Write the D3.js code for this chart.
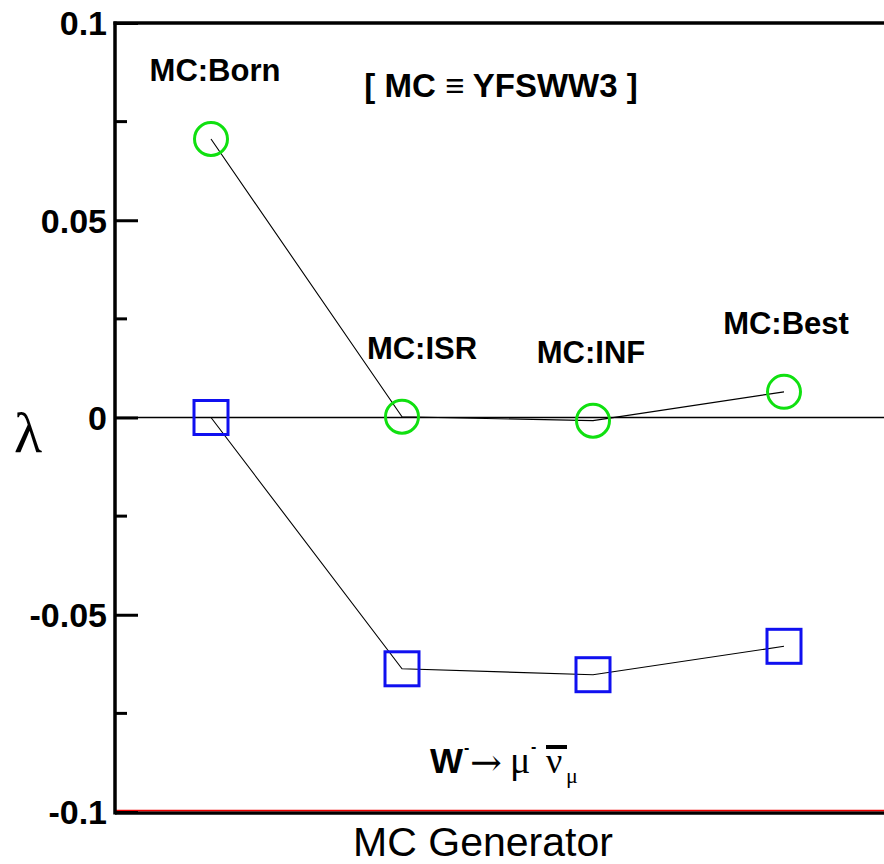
<!DOCTYPE html>
<html>
<head>
<meta charset="utf-8">
<script src="https://cdn.jsdelivr.net/npm/d3@7"></script>
<style>
  html, body { margin: 0; padding: 0; background: #fff; }
  svg { display: block; }
</style>
</head>
<body>
<script>
// Generator variants along the horizontal axis
const categories = ["MC:Born", "MC:ISR", "MC:INF", "MC:Best"];
// Green circle series
const circleValues = [0.0706, 0.0002, -0.0008, 0.0065];
// Blue square series
const squareValues = [0.0, -0.0637, -0.0652, -0.0580];
// Y-axis tick labels
const yTickValues = [0.1, 0.05, 0, -0.05, -0.1];
const yTickLabels = ["0.1", "0.05", "0", "-0.05", "-0.1"];
const yMinorTicks = [0.075, 0.025, -0.025, -0.075];

const W = 884, H = 864;
const svg = d3.select("body").append("svg").attr("width", W).attr("height", H);

const x = d3.scalePoint().domain(categories).range([211, 784]);
const y = d3.scaleLinear().domain([-0.1, 0.1]).range([812, 23]);
const left = 115, right = W;

const sans = "'Liberation Sans', Arial, sans-serif";
const serif = "'Liberation Serif', 'Times New Roman', serif";

// zero reference line
svg.append("line")
  .attr("x1", left).attr("x2", right)
  .attr("y1", y(0)).attr("y2", y(0))
  .attr("stroke", "#000").attr("stroke-width", 1.5);

// frame: top edge, bottom edge (with red accent), left axis
svg.append("line").attr("x1", left - 1.5).attr("x2", right)
  .attr("y1", y(0.1)).attr("y2", y(0.1))
  .attr("stroke", "#000").attr("stroke-width", 3.5);
svg.append("line").attr("x1", left).attr("x2", right)
  .attr("y1", y(-0.1) + 1).attr("y2", y(-0.1) + 1)
  .attr("stroke", "#000").attr("stroke-width", 3.5);
svg.append("line").attr("x1", left).attr("x2", right)
  .attr("y1", y(-0.1) - 1.5).attr("y2", y(-0.1) - 1.5)
  .attr("stroke", "#e00").attr("stroke-width", 1.5);

// left axis with major ticks and labels
const yAxis = d3.axisRight(y)
  .tickValues(yTickValues)
  .tickSize(23)
  .tickFormat((d, i) => yTickLabels[i]);
const ga = svg.append("g").attr("transform", `translate(${left},0)`).call(yAxis);
ga.select(".domain")
  .attr("d", `M0,${y(0.1) - 1.5}V${y(-0.1) + 2.5}`)
  .attr("stroke", "#000").attr("stroke-width", 3.5);
ga.selectAll(".tick line").attr("stroke", "#000").attr("stroke-width", 3);
ga.selectAll(".tick text")
  .attr("x", -8).attr("dy", "0.35em")
  .attr("text-anchor", "end")
  .attr("font-family", sans).attr("font-weight", "bold")
  .attr("font-size", 34).attr("fill", "#000");

// minor ticks
svg.append("g").selectAll("line").data(yMinorTicks).join("line")
  .attr("x1", left).attr("x2", left + 12)
  .attr("y1", d => y(d)).attr("y2", d => y(d))
  .attr("stroke", "#000").attr("stroke-width", 3);

// connecting lines
const line = d3.line().x((d, i) => x(categories[i])).y(d => y(d));
svg.append("path").datum(circleValues).attr("d", line)
  .attr("fill", "none").attr("stroke", "#000").attr("stroke-width", 1.1);
svg.append("path").datum(squareValues).attr("d", line)
  .attr("fill", "none").attr("stroke", "#000").attr("stroke-width", 1.1);

// markers
svg.append("g").selectAll("circle").data(circleValues).join("circle")
  .attr("cx", (d, i) => x(categories[i])).attr("cy", d => y(d))
  .attr("r", 16.5)
  .attr("fill", "none").attr("stroke", "#10e010").attr("stroke-width", 3);
const sq = 34;
svg.append("g").selectAll("rect").data(squareValues).join("rect")
  .attr("x", (d, i) => x(categories[i]) - sq / 2).attr("y", d => y(d) - sq / 2)
  .attr("width", sq).attr("height", sq)
  .attr("fill", "none").attr("stroke", "#1010f0").attr("stroke-width", 3);

// generator labels above each circle
const labelDx = [4, 20, -2, 2];
svg.append("g").selectAll("text").data(categories).join("text")
  .attr("x", (d, i) => x(d) + labelDx[i])
  .attr("y", (d, i) => y(circleValues[i]) - 58)
  .attr("text-anchor", "middle")
  .attr("font-family", sans).attr("font-weight", "bold")
  .attr("font-size", 31).attr("fill", "#000")
  .text(d => d);

// generator identity note
svg.append("text")
  .attr("x", 501).attr("y", 97)
  .attr("text-anchor", "middle")
  .attr("font-family", sans).attr("font-weight", "bold")
  .attr("font-size", 33).attr("fill", "#000")
  .text("[ MC \u2261 YFSWW3 ]");

// decay channel: W⁻ → μ⁻ ν̄_μ
const ch = svg.append("g").attr("fill", "#000");
ch.append("text").attr("x", 430).attr("y", 773)
  .attr("font-family", sans).attr("font-weight", "bold").attr("font-size", 35)
  .text("W");
ch.append("text").attr("x", 464).attr("y", 753)
  .attr("font-family", sans).attr("font-weight", "bold").attr("font-size", 16)
  .text("-");
ch.append("text").attr("x", 470).attr("y", 775)
  .attr("font-family", "'DejaVu Serif', serif").attr("font-size", 37)
  .attr("textLength", 32).attr("lengthAdjust", "spacingAndGlyphs")
  .text("\u2192");
ch.append("text").attr("x", 510).attr("y", 773)
  .attr("font-family", serif).attr("font-size", 38)
  .text("\u03bc");
ch.append("text").attr("x", 531).attr("y", 752)
  .attr("font-family", sans).attr("font-weight", "bold").attr("font-size", 16)
  .text("-");
ch.append("text").attr("x", 546).attr("y", 773)
  .attr("font-family", serif).attr("font-size", 36)
  .text("\u03bd");
ch.append("rect").attr("x", 546).attr("y", 745).attr("width", 21).attr("height", 4);
ch.append("text").attr("x", 566).attr("y", 783)
  .attr("font-family", serif).attr("font-size", 22)
  .text("\u03bc");

// axis titles
svg.append("text")
  .attr("x", 483).attr("y", 856)
  .attr("text-anchor", "middle")
  .attr("font-family", sans).attr("font-size", 41).attr("fill", "#000")
  .text("MC Generator");
svg.append("text")
  .attr("x", 28).attr("y", 452)
  .attr("text-anchor", "middle")
  .attr("font-family", serif).attr("font-size", 58).attr("fill", "#000")
  .text("\u03bb");
</script>
</body>
</html>
